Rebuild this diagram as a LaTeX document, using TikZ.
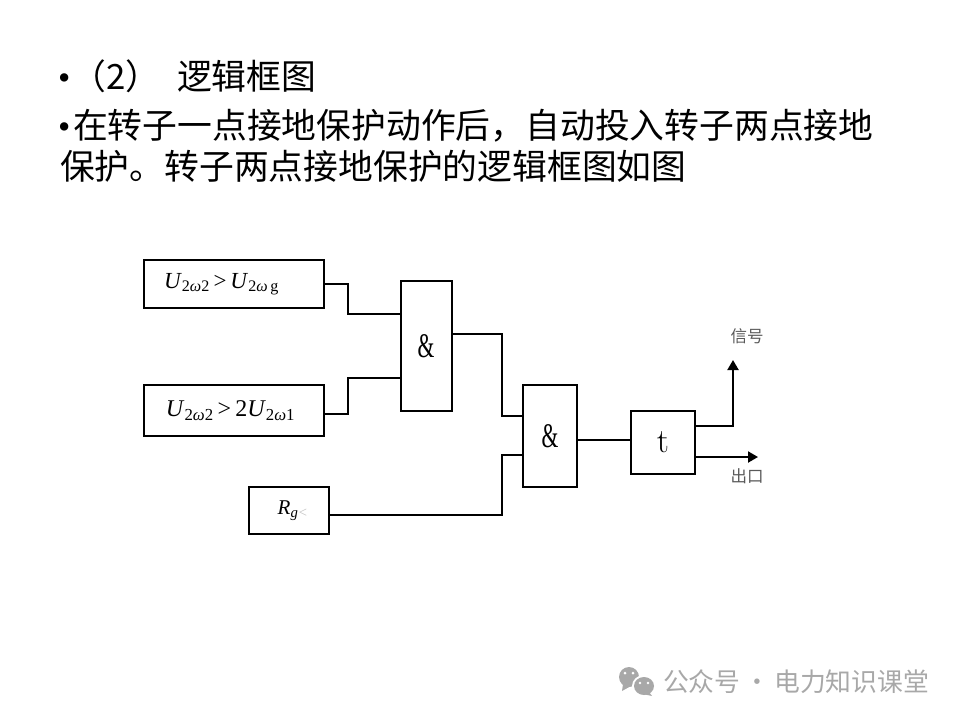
\documentclass[tikz,border=0pt]{standalone}
\usepackage{fix-cm}
\usepackage{graphicx}
\usepackage{fontspec}
\usepackage{amsmath}
\usetikzlibrary{arrows.meta}
\newfontfamily\cjk{Noto Sans CJK SC}
\newfontfamily\logicfont{Liberation Serif}
\newcommand{\pSize}[1]{\fontsize{#1}{#1}\selectfont}
\newcommand{\pVolt}[1]{\textit{U}$_{\text{2\itshape ω\upshape #1}}$}
\newcommand{\pAnd}{\scalebox{0.72}[1.15]{\&}}
\definecolor{markgray}{gray}{0.66}
\begin{document}
\begin{tikzpicture}[x=1pt,y=-1pt,line width=2pt,
  logicbox/.style={draw=black, rectangle, inner sep=0pt},
  slideline/.style={anchor=base west, inner sep=0pt, font=\cjk\pSize{34.8}},
  bulletmark/.style={anchor=base west, inner sep=0pt, font=\logicfont\pSize{35}},
  sigtext/.style={anchor=base, inner sep=0pt, text=black!65, font=\cjk\pSize{16.5}},
  wire/.style={draw=black, line width=2pt},
  outwire/.style={wire, -{Triangle[length=10pt,width=11pt]}}]
\useasboundingbox (0,0) rectangle (960,720);
\node[bulletmark] (head) at (57,89) {•};
\node[slideline] (headnum) at (70,89) {（\makebox[20pt][c]{2}）};
\node[slideline] (headtext) at (176,89) {逻辑框图};
\node[bulletmark] (headtwo) at (57,138) {•};
\node[slideline] (lineone) at (72,138) {在转子一点接地保护动作后，自动投入转子两点接地};
\node[slideline] (linetwo) at (59,179) {保护。转子两点接地保护的逻辑框图如图};
\node[logicbox, minimum width=180pt, minimum height=48pt, font=\logicfont\pSize{23}] (limitA) at (234,284) {\pVolt{2}\,>\,\pVolt{\,g}\hspace{25pt}\null};
\node[logicbox, minimum width=180pt, minimum height=51pt, font=\logicfont\pSize{24}] (limitB) at (234,410.5) {\pVolt{2}\,>\,2\pVolt{1}\hspace{7pt}\null};
\node[logicbox, minimum width=80pt, minimum height=47pt, font=\logicfont\pSize{21}] (rotor) at (289,510.5) {\hspace{8pt}\textit{R}$_{\text{\itshape g\textcolor{black!25}{<}}}$};
\node[logicbox, minimum width=51pt, minimum height=130pt, font=\logicfont\pSize{30}] (andA) at (426,346) {\pAnd};
\node[logicbox, minimum width=54pt, minimum height=102pt, font=\logicfont\pSize{30}] (andB) at (550,436) {\pAnd};
\node[logicbox, minimum width=64pt, minimum height=63pt, font=\pSize{34}] (delay) at (663,442.5) {\raisebox{-3pt}{t}};
\coordinate (sigend) at (733,360);
\coordinate (outend) at (758,457);
\node[sigtext] (sigtext) at (747,342) {信号};
\node[sigtext] (outtext) at (747,482) {出口};
\draw[wire] (limitA.east) -- ++(23,0) |- ([yshift=32pt]andA.west);
\draw[wire] ([yshift=-3pt]limitB.east) -- ++(23,0) |- ([yshift=-32pt]andA.west);
\draw[wire] ([yshift=12pt]andA.east) -- ++(49,0) |- ([yshift=20pt]andB.west);
\draw[wire] ([yshift=-4.5pt]rotor.east) -- ++(172,0) |- ([yshift=-19pt]andB.west);
\draw[wire] ([yshift=-4pt]andB.east) -- ([yshift=2.5pt]delay.west);
\draw[outwire] ([yshift=16.5pt]delay.east) -| (sigend);
\draw[outwire] ([yshift=-14.5pt]delay.east) -- (outend);
\fill[markgray] (629,677) ellipse (10pt and 10pt);
\fill[markgray] (623,684) -- (622,691) -- (631,686) -- cycle;
\fill[white] (644,686) ellipse (12pt and 11pt);
\fill[markgray] (644,686) ellipse (10pt and 9pt);
\fill[markgray] (649,692) -- (652,696) -- (643,694) -- cycle;
\fill[white] (625,673) circle (1.5pt) (633,673) circle (1.5pt) (640,683) circle (1.3pt) (648,683) circle (1.3pt);
\node[anchor=base west, inner sep=0pt, text=markgray, font=\cjk\pSize{25.8}] (mark) at (662,691) {公众号\makebox[34pt][c]{·}电力知识课堂};
\end{tikzpicture}
\end{document}
